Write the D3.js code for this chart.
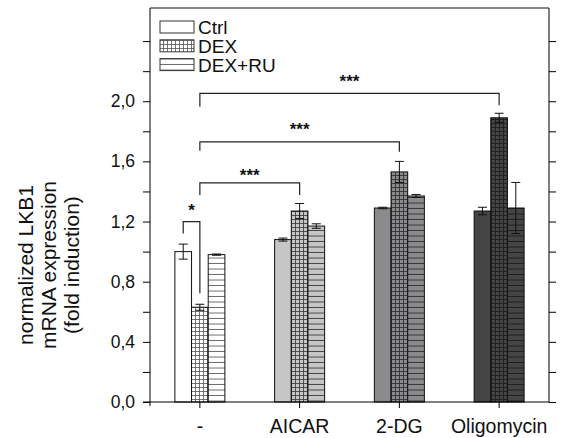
<!DOCTYPE html>
<html>
<head>
<meta charset="utf-8">
<script src="https://cdn.jsdelivr.net/npm/d3@7"></script>
<style>
  body { margin: 0; background: #fff; }
  svg text { font-family: Arial, "Liberation Sans", sans-serif; fill: #111; }
</style>
</head>
<body>
<svg width="577" height="438"></svg>
<script>
// data
var categories = ["-", "AICAR", "2-DG", "Oligomycin"];
var series = ["Ctrl", "DEX", "DEX+RU"];
var ctrlValues  = [1.00, 1.08, 1.29, 1.27];
var ctrlErrors  = [0.05, 0.01, 0.005, 0.025];
var dexValues   = [0.63, 1.27, 1.53, 1.89];
var dexErrors   = [0.02, 0.05, 0.07, 0.03];
var dexRuValues = [0.98, 1.17, 1.37, 1.29];
var dexRuErrors = [0.004, 0.015, 0.01, 0.17];
var yTicks = [0, 0.2, 0.4, 0.6, 0.8, 1.0, 1.2, 1.4, 1.6, 1.8, 2.0, 2.2, 2.4];
var yTickLabels = ["0,0", "", "0,4", "", "0,8", "", "1,2", "", "1,6", "", "2,0", "", ""];
// significance brackets: [category, series] ends, bracket top, drop ends, label
var brackets = [
  {a: [0, "DEX"], b: [3, "DEX"], top: 2.052, aEnd: 1.963, bEnd: 1.974, label: "***", ly: 2.152},
  {a: [0, "DEX"], b: [2, "DEX"], top: 1.73, aEnd: 1.67, bEnd: 1.664, label: "***", ly: 1.837},
  {a: [0, "DEX"], b: [1, "DEX"], top: 1.457, aEnd: 1.376, bEnd: 1.376, label: "***", ly: 1.531},
  {a: [0, "Ctrl"], b: [0, "DEX"], top: 1.20, aEnd: 1.12, bEnd: 0.723, label: "*", ly: 1.298}
];

var groupFill = ["#ffffff", "#c6c6c6", "#8b8b8e", "#454545"];
var lineCol = ["#555", "#333", "#2a2a2a", "#1a1a1a"];

var svg = d3.select("svg");
var pL = 150, pR = 549, pT = 8, pB = 402;

var x0 = d3.scaleBand().domain(categories).range([pL, pR]);
var x1 = d3.scaleBand().domain(series).range([-25, 25]);
var y = d3.scaleLinear().domain([0, 2.62]).range([pB, pT]);

var rows = [];
categories.forEach(function(c, i) {
  rows.push({cat: c, gi: i, s: "Ctrl", v: ctrlValues[i], e: ctrlErrors[i]});
  rows.push({cat: c, gi: i, s: "DEX", v: dexValues[i], e: dexErrors[i]});
  rows.push({cat: c, gi: i, s: "DEX+RU", v: dexRuValues[i], e: dexRuErrors[i]});
});

function cx(ci, s) { return x0(categories[ci]) + x0.bandwidth() / 2 + x1(s) + x1.bandwidth() / 2; }

// patterns, one set per group colour (plus legend)
var defs = svg.append("defs");
function makePatterns(id, bg, col) {
  var g = defs.append("pattern").attr("id", "grid" + id)
    .attr("patternUnits", "userSpaceOnUse").attr("width", 4).attr("height", 4);
  g.append("rect").attr("width", 4).attr("height", 4).attr("fill", bg);
  g.append("path").attr("d", "M0,3.5H4M3.5,0V4").attr("stroke", col).attr("stroke-width", 0.8).attr("fill", "none");
  var h = defs.append("pattern").attr("id", "hl" + id)
    .attr("patternUnits", "userSpaceOnUse").attr("width", 10).attr("height", 5.5);
  h.append("rect").attr("width", 10).attr("height", 5.5).attr("fill", bg);
  h.append("path").attr("d", "M0,5H10").attr("stroke", col).attr("stroke-width", 0.9);
}
groupFill.forEach(function(f, i) { makePatterns(i, f, lineCol[i]); });

function fillFor(d) {
  if (d.s === "Ctrl") return groupFill[d.gi];
  if (d.s === "DEX") return "url(#grid" + d.gi + ")";
  return "url(#hl" + d.gi + ")";
}

svg.append("g").selectAll("rect").data(rows).enter().append("rect")
  .attr("x", function(d) { return x0(d.cat) + x0.bandwidth() / 2 + x1(d.s); })
  .attr("y", function(d) { return y(d.v); })
  .attr("width", x1.bandwidth())
  .attr("height", function(d) { return y(0) - y(d.v); })
  .attr("fill", fillFor)
  .attr("stroke", "#111").attr("stroke-width", 1);

// error bars
var eb = svg.append("g").attr("stroke", "#111").attr("stroke-width", 1).attr("fill", "none");
rows.forEach(function(d) {
  var xc = cx(d.gi, d.s);
  eb.append("path").attr("d",
    "M" + xc + "," + y(d.v + d.e) + "V" + y(d.v - d.e) +
    "M" + (xc - 4.5) + "," + y(d.v + d.e) + "H" + (xc + 4.5) +
    "M" + (xc - 4.5) + "," + y(d.v - d.e) + "H" + (xc + 4.5));
});

// axes
svg.append("g").attr("transform", "translate(" + pL + ",0)")
  .call(d3.axisLeft(y).tickValues(yTicks).tickSize(7).tickSizeOuter(0)
    .tickFormat(function(d, i) { return yTickLabels[i]; }))
  .call(function(g) {
    g.select(".domain").attr("d", "M0," + pT + "V" + (pB + 4));
    g.selectAll("text").attr("font-size", 17.5).attr("font-family", null).attr("x", -15);
  });

svg.append("g").attr("transform", "translate(" + pR + ",0)")
  .call(d3.axisLeft(y).tickValues(yTicks).tickSize(-7).tickSizeOuter(0).tickFormat(""))
  .call(function(g) { g.select(".domain").attr("d", "M0," + pT + "V" + pB); });

svg.append("g").attr("transform", "translate(0," + pB + ")")
  .call(d3.axisBottom(x0).tickSize(6).tickSizeOuter(0))
  .call(function(g) {
    g.select(".domain").attr("d", "M" + (pL - 7) + ",0H" + pR);
    g.selectAll("text").attr("font-size", 19.5).attr("font-family", null).attr("y", 17);
  });

svg.append("line").attr("x1", pL).attr("x2", pR).attr("y1", pT).attr("y2", pT)
  .attr("stroke", "#111");

// y title
var yt = svg.append("text").attr("transform", "translate(0,265) rotate(-90)")
  .attr("text-anchor", "middle").attr("font-size", 21);
["normalized LKB1", "mRNA expression", "(fold induction)"].forEach(function(t, i) {
  yt.append("tspan").attr("x", 0).attr("y", 33 + i * 23).text(t);
});

// significance brackets
var br = svg.append("g");
brackets.forEach(function(b) {
  var xa = cx(b.a[0], b.a[1]), xb = cx(b.b[0], b.b[1]);
  br.append("path").attr("fill", "none").attr("stroke", "#222").attr("stroke-width", 1.2)
    .attr("d", "M" + xa + "," + y(b.aEnd) + "V" + y(b.top) + "H" + xb + "V" + y(b.bEnd));
  br.append("text").attr("x", (xa + xb) / 2).attr("y", y(b.ly) + 9)
    .attr("text-anchor", "middle").attr("font-size", 17).attr("font-weight", "bold")
    .text(b.label);
});

// legend
var leg = svg.append("g").attr("transform", "translate(160,21)");
series.forEach(function(s, i) {
  var f = s === "Ctrl" ? "#fff" : (s === "DEX" ? "url(#grid0)" : "url(#hl0)");
  leg.append("rect").attr("x", 0).attr("y", i * 18.8).attr("width", 34).attr("height", 12)
    .attr("fill", f).attr("stroke", "#333").attr("stroke-width", 1);
  leg.append("text").attr("x", 38).attr("y", i * 18.8 + 13).attr("font-size", 19).text(s);
});
</script>
</body>
</html>
